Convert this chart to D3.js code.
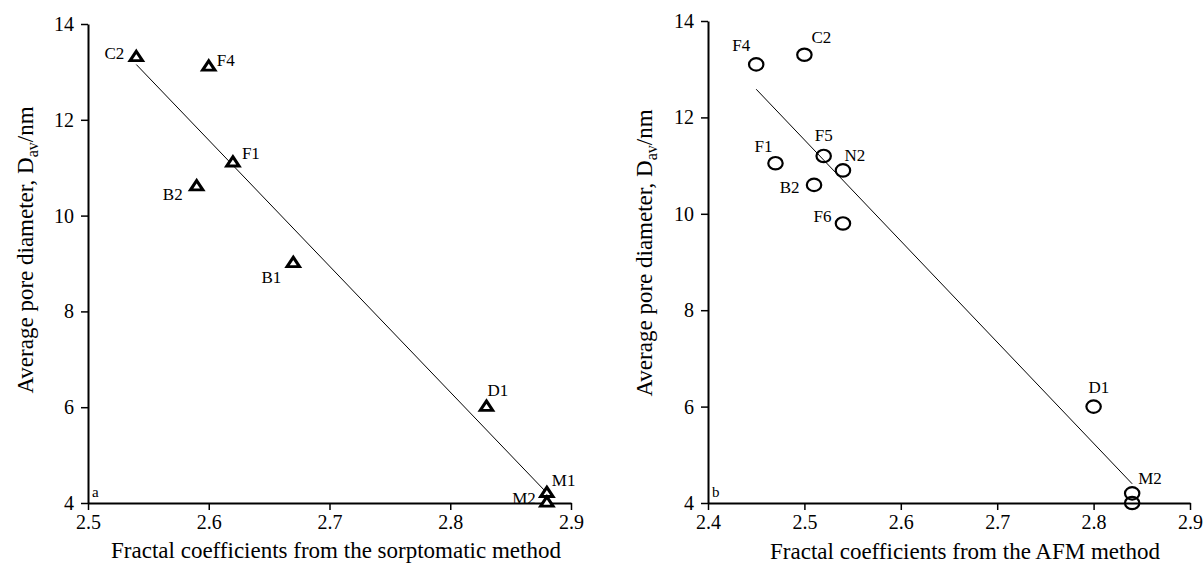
<!DOCTYPE html>
<html>
<head>
<meta charset="utf-8">
<script src="https://cdn.jsdelivr.net/npm/d3@7"></script>
<style>
  body { margin: 0; background: #fff; }
  text { font-family: "Liberation Serif", "Times New Roman", serif; fill: #000; }
</style>
</head>
<body>
<div id="container"></div>
<script>
let w = 1203;
let h = 563;

// panel a: sorptomatic method
let sorpSamples = ["C2", "F4", "F1", "B2", "B1", "D1", "M1", "M2"];
let sorpFractal = [2.54, 2.60, 2.62, 2.59, 2.67, 2.83, 2.88, 2.88];
let sorpDiameter = [13.3, 13.1, 11.1, 10.6, 9.0, 6.0, 4.2, 4.0];

// panel b: AFM method (second M point carries no label in the figure)
let afmSamples = ["F4", "C2", "F1", "F5", "N2", "B2", "F6", "D1", "M2", ""];
let afmFractal = [2.45, 2.50, 2.47, 2.52, 2.54, 2.51, 2.54, 2.80, 2.84, 2.84];
let afmDiameter = [13.1, 13.3, 11.05, 11.2, 10.9, 10.6, 9.8, 6.0, 4.2, 4.0];

let xTicksA = [2.5, 2.6, 2.7, 2.8, 2.9];
let xTicksB = [2.4, 2.5, 2.6, 2.7, 2.8, 2.9];
let yTicks = [4, 6, 8, 10, 12, 14];

// label placement: [dx, dy, anchor]
let labelPosA = {
  C2: [-12, -4, "end"], F4: [8, -7, "start"], F1: [9, -10, "start"],
  B2: [-14, 7, "end"], B1: [-12, 14, "end"], D1: [1, -17, "start"],
  M1: [5, -13, "start"], M2: [-11, -5, "end"]
};
let labelPosB = {
  F4: [-6, -19, "end"], C2: [7, -18, "start"], F1: [-3, -17, "end"],
  F5: [0, -21, "middle"], N2: [1.5, -15, "start"], B2: [-14.5, 2.5, "end"],
  F6: [-11.5, -7.5, "end"], D1: [-5, -20, "start"], M2: [6, -15, "start"]
};

let viz = d3.select("#container")
  .append("svg")
  .attr("width", w)
  .attr("height", h)
  ;

function fitLine(xs, ys) {
  let mx = d3.mean(xs), my = d3.mean(ys);
  let sxy = d3.sum(xs, function (d, i) { return (d - mx) * (ys[i] - my); });
  let sxx = d3.sum(xs, function (d) { return (d - mx) * (d - mx); });
  let b = sxy / sxx;
  return function (x) { return my + b * (x - mx); };
}

function drawPanel(p) {
  let g = viz.append("g");
  let xScale = d3.scaleLinear().domain([p.xTicks[0], p.xTicks[p.xTicks.length - 1]]).range(p.xRange);
  let yScale = d3.scaleLinear().domain([4, 14]).range(p.yRange);

  let xAxis = d3.axisBottom(xScale).tickValues(p.xTicks).tickFormat(d3.format(".1f"))
    .tickSize(7).tickSizeOuter(0).tickPadding(5);
  let xAxisGroup = g.append("g")
    .attr("transform", "translate(0," + p.yRange[0] + ")")
    .call(xAxis);

  let yAxis = d3.axisLeft(yScale).tickValues(yTicks).tickSize(7).tickSizeOuter(0).tickPadding(7);
  let yAxisGroup = g.append("g")
    .attr("transform", "translate(" + p.xRange[0] + ",0)")
    .call(yAxis);

  [xAxisGroup, yAxisGroup].forEach(function (ax) {
    ax.select(".domain").attr("stroke", "#000").attr("stroke-width", 2);
    ax.selectAll(".tick line").attr("stroke", "#000").attr("stroke-width", 1.5);
    ax.selectAll(".tick text").attr("font-family", "Liberation Serif").attr("font-size", 20).attr("fill", "#000");
  });

  // regression line
  let f = fitLine(p.xs, p.ys);
  let x0 = d3.min(p.xs), x1 = d3.max(p.xs);
  g.append("line")
    .attr("x1", xScale(x0)).attr("y1", yScale(f(x0)))
    .attr("x2", xScale(x1)).attr("y2", yScale(f(x1)))
    .attr("stroke", "#000").attr("stroke-width", 1);

  // markers
  let pts = p.xs.map(function (d, i) { return { x: d, y: p.ys[i], name: p.names[i] }; });
  if (p.marker === "triangle") {
    let tri = d3.symbol().type(d3.symbolTriangle).size(50);
    g.selectAll(".pt").data(pts).enter().append("path")
      .attr("d", tri)
      .attr("transform", function (d) { return "translate(" + xScale(d.x) + "," + yScale(d.y) + ") scale(1.15,1)"; })
      .attr("fill", "#fff").attr("stroke", "#000").attr("stroke-width", 2.8);
  } else {
    g.selectAll(".pt").data(pts).enter().append("ellipse")
      .attr("cx", function (d) { return xScale(d.x); })
      .attr("cy", function (d) { return yScale(d.y); })
      .attr("rx", 7.2).attr("ry", 6.2)
      .attr("fill", "none").attr("stroke", "#000").attr("stroke-width", 2.2);
  }

  // point labels
  g.selectAll(".lbl").data(pts.filter(function (d) { return d.name !== ""; })).enter().append("text")
    .attr("x", function (d) { return xScale(d.x) + p.labelPos[d.name][0]; })
    .attr("y", function (d) { return yScale(d.y) + p.labelPos[d.name][1]; })
    .attr("dy", "0.35em")
    .attr("text-anchor", function (d) { return p.labelPos[d.name][2]; })
    .attr("font-size", 17)
    .attr("fill", function (d) { return p.dimLabel === d.name ? "#444" : "#000"; })
    .text(function (d) { return d.name; });

  // panel letter
  g.append("text").attr("x", p.xRange[0] + 4).attr("y", p.yRange[0] - 6)
    .attr("font-size", 15).text(p.letter);

  // x title
  g.append("text").attr("x", p.xTitlePos[0]).attr("y", p.xTitlePos[1])
    .attr("text-anchor", "middle").attr("font-size", 23).text(p.xTitle);

  // y title
  let yt = g.append("text")
    .attr("transform", "translate(" + p.yTitlePos[0] + "," + p.yTitlePos[1] + ") rotate(-90)")
    .attr("text-anchor", "middle").attr("font-size", 23);
  yt.append("tspan").text("Average pore diameter, D");
  yt.append("tspan").attr("font-size", 16).attr("dy", 5).text("av");
  yt.append("tspan").attr("dy", -5).text("/nm");
}

drawPanel({
  xs: sorpFractal, ys: sorpDiameter, names: sorpSamples, xTicks: xTicksA,
  xRange: [88, 571], yRange: [503, 24], marker: "triangle", labelPos: labelPosA,
  dimLabel: "M2", letter: "a",
  xTitle: "Fractal coefficients from the sorptomatic method", xTitlePos: [336, 558],
  yTitlePos: [33, 250]
});

drawPanel({
  xs: afmFractal, ys: afmDiameter, names: afmSamples, xTicks: xTicksB,
  xRange: [708, 1190], yRange: [503, 21], marker: "circle", labelPos: labelPosB,
  dimLabel: "", letter: "b",
  xTitle: "Fractal coefficients from the AFM method", xTitlePos: [965, 559],
  yTitlePos: [652, 253]
});
</script>
</body>
</html>
